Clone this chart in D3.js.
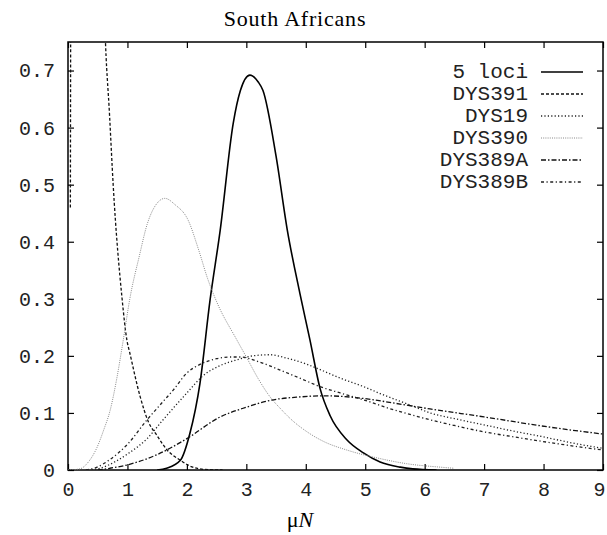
<!DOCTYPE html>
<html>
<head>
<meta charset="utf-8">
<script src="https://cdn.jsdelivr.net/npm/d3@7"></script>
<style>
  body { margin: 0; background: #fff; }
  svg { display: block; }
  .tick text { font-family: "Liberation Mono", "DejaVu Sans Mono", monospace; font-size: 20px; fill: #222; }
</style>
</head>
<body>
<div id="chart"></div>
<script>
// curves: [muN, density]
const loci5 = [[1.5,0],[1.66,0.003],[1.89,0.017],[2.05,0.064],[2.22,0.152],[2.39,0.298],[2.56,0.42],[2.78,0.608],[2.9,0.665],[3.06,0.692],[3.2,0.68],[3.28,0.665],[3.5,0.55],[3.69,0.42],[3.9,0.31],[4.07,0.228],[4.24,0.143],[4.41,0.095],[4.69,0.053],[4.97,0.03],[5.25,0.014],[5.59,0.005],[5.8,0.002],[6.2,0]];
const dys391 = [[0.04,0.46],[0.055,1.2],[0.3,3],[0.5,1.4],[0.62,0.78],[0.7,0.62],[0.76,0.5],[0.91,0.3],[0.99,0.228],[1.04,0.205],[1.21,0.13],[1.35,0.085],[1.5,0.06],[1.66,0.036],[1.89,0.017],[2.05,0.007],[2.3,0.001],[2.6,0]];
const dys19 = [[0.4,0],[0.54,0.003],[0.8,0.015],[1.0,0.028],[1.33,0.055],[1.6,0.088],[2.0,0.135],[2.27,0.165],[2.56,0.183],[2.84,0.193],[3.11,0.2],[3.4,0.202],[3.68,0.196],[4.0,0.186],[4.24,0.176],[4.58,0.161],[5.0,0.145],[5.25,0.134],[5.8,0.112],[6.09,0.1],[6.5,0.09],[7,0.079],[7.5,0.068],[8,0.058],[8.5,0.047],[9,0.038]];
const dys390 = [[0,0],[0.2,0.002],[0.35,0.015],[0.49,0.04],[0.6,0.07],[0.71,0.105],[0.82,0.16],[0.93,0.228],[1.04,0.3],[1.2,0.375],[1.33,0.43],[1.45,0.46],[1.63,0.476],[1.8,0.465],[2.02,0.438],[2.2,0.385],[2.35,0.335],[2.5,0.295],[2.84,0.228],[3.0,0.198],[3.2,0.16],[3.4,0.128],[3.57,0.108],[3.74,0.09],[4.02,0.067],[4.3,0.05],[4.69,0.035],[5.25,0.02],[5.7,0.011],[6.26,0.005],[6.5,0.003]];
const dys389A = [[0.5,0],[0.7,0.003],[1.0,0.009],[1.5,0.027],[2.0,0.055],[2.56,0.093],[3.0,0.11],[3.4,0.122],[3.9,0.128],[4.3,0.13],[4.6,0.129],[5.0,0.125],[5.5,0.117],[6.09,0.107],[7.0,0.093],[8.11,0.075],[9,0.063]];
const dys389B = [[0.3,0],[0.49,0.005],[0.7,0.018],[1.0,0.045],[1.33,0.088],[1.6,0.12],[1.77,0.14],[2.0,0.17],[2.22,0.185],[2.5,0.195],[2.73,0.198],[2.9,0.198],[3.2,0.19],[3.57,0.175],[3.9,0.161],[4.24,0.146],[4.58,0.135],[4.97,0.123],[5.4,0.108],[5.8,0.096],[6.09,0.088],[6.5,0.078],[6.94,0.068],[7.5,0.058],[8.11,0.048],[8.5,0.042],[9,0.035]];

const seriesNames = ["5 loci", "DYS391", "DYS19", "DYS390", "DYS389A", "DYS389B"];
const xTicks = [0,1,2,3,4,5,6,7,8,9];
const yTicks = [0,0.1,0.2,0.3,0.4,0.5,0.6,0.7];

const series = [
  {name: seriesNames[0], data: loci5,   color: "#000", width: 1.6, dash: null},
  {name: seriesNames[1], data: dys391,  color: "#111", width: 1.3, dash: "3,2"},
  {name: seriesNames[2], data: dys19,   color: "#222", width: 1.3, dash: "1.2,2.2"},
  {name: seriesNames[3], data: dys390,  color: "#888", width: 1.0, dash: "1,1.2"},
  {name: seriesNames[4], data: dys389A, color: "#111", width: 1.3, dash: "5,2,1.5,2"},
  {name: seriesNames[5], data: dys389B, color: "#222", width: 1.3, dash: "3,2.5,1.2,2.5"}
];

const W = 607, H = 535;
const margin = {left: 68, right: 4, top: 42, bottom: 65};
const width = W - margin.left - margin.right;
const height = H - margin.top - margin.bottom;

const svg = d3.select("#chart").append("svg")
  .attr("width", W).attr("height", H);

const g = svg.append("g").attr("transform", `translate(${margin.left},${margin.top})`);

const x = d3.scaleLinear().domain([0, 9]).range([0, width]);
const y = d3.scaleLinear().domain([0, 0.75]).range([height, 0]);

svg.append("defs").append("clipPath").attr("id", "plotclip")
  .append("rect").attr("width", width).attr("height", height);

// axes, ticks pointing inward, mirrored on top/right
const fmtY = d => d === 0 ? "0" : d3.format(".1f")(d);
const xAxis = g.append("g").attr("transform", `translate(0,${height})`)
  .call(d3.axisBottom(x).tickValues(xTicks).tickSize(-6).tickPadding(12).tickFormat(d3.format("d")));
// last label sits at the page edge
xAxis.selectAll(".tick text").filter(d => d === 9).attr("dx", -4);
g.append("g")
  .call(d3.axisLeft(y).tickValues(yTicks).tickSize(-6).tickPadding(13).tickFormat(fmtY));
g.append("g")
  .call(d3.axisTop(x).tickValues(xTicks).tickSize(-6).tickFormat(""));
g.append("g").attr("transform", `translate(${width},0)`)
  .call(d3.axisRight(y).tickValues(yTicks).tickSize(-6).tickFormat(""));
g.selectAll(".domain").remove();
g.selectAll(".tick line").attr("stroke", "#000").attr("stroke-width", 1.2);

g.append("rect")
  .attr("width", width).attr("height", height)
  .attr("fill", "none").attr("stroke", "#000").attr("stroke-width", 1.5);

const line = d3.line()
  .x(d => x(d[0]))
  .y(d => y(d[1]))
  .curve(d3.curveMonotoneX);

g.append("g").attr("clip-path", "url(#plotclip)")
  .selectAll("path")
  .data(series)
  .join("path")
    .attr("d", d => line(d.data))
    .attr("fill", "none")
    .attr("stroke", d => d.color)
    .attr("stroke-width", d => d.width)
    .attr("stroke-dasharray", d => d.dash);

// legend
const legend = g.append("g").attr("transform", `translate(${width - 75},${30})`);
const rows = legend.selectAll("g").data(series).join("g")
  .attr("transform", (d, i) => `translate(0,${i * 22})`);
rows.append("text")
  .attr("text-anchor", "end")
  .attr("dominant-baseline", "middle")
  .style("font-family", "'Liberation Mono', monospace")
  .style("font-size", "21px")
  .attr("fill", "#222")
  .text(d => d.name);
rows.append("line")
  .attr("x1", 13).attr("x2", 55).attr("y1", 0).attr("y2", 0)
  .attr("stroke", d => d.color)
  .attr("stroke-width", d => d.width)
  .attr("stroke-dasharray", d => d.dash);

// title and x label
svg.append("text")
  .attr("x", 295).attr("y", 26)
  .attr("text-anchor", "middle")
  .style("font-family", "'Liberation Serif', serif")
  .style("font-size", "22px")
  .style("letter-spacing", "0.8px")
  .text("South Africans");

const xl = svg.append("text")
  .attr("x", 300).attr("y", 527)
  .attr("text-anchor", "middle")
  .style("font-family", "'Liberation Serif', serif")
  .style("font-size", "22px");
xl.append("tspan").text("μ");
xl.append("tspan").style("font-style", "italic").text("N");
</script>
</body>
</html>
